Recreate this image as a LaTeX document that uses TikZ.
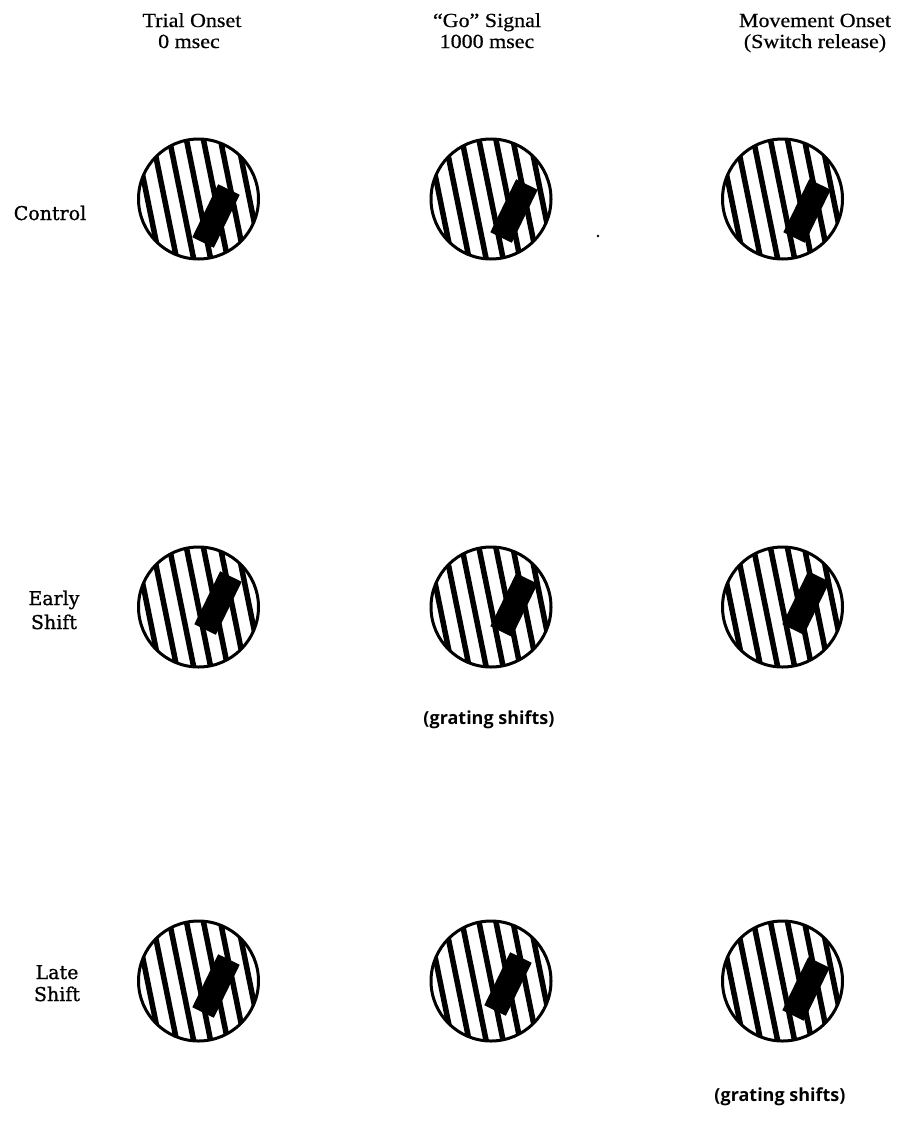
\documentclass[tikz,border=0pt]{standalone}
\usepackage{fontspec}
\setmainfont[FakeStretch=1.1,FakeBold=0.6]{Liberation Serif}
\newfontfamily\labelfont[FakeBold=1]{DejaVu Serif}
\newfontfamily\notefont{Open Sans}
\newcommand\gratingpanel[5]{% name, cx, cy, bar x, bar y
  \begin{scope}
    \clip (#2,#3) circle (60);
    \foreach \i in {-7,...,7} {
      \draw[stripe] ({#2+\i*17-75*sin(11.5)},{#3-75*cos(11.5)}) -- ({#2+\i*17+75*sin(11.5)},{#3+75*cos(11.5)});
    }
  \end{scope}
  \node[disc] (#1) at (#2,#3) {};
  \node[bar] (#1bar) at (#4,#5) {};
}
\begin{document}
\begin{tikzpicture}[x=1pt,y=-1pt,
  disc/.style={circle, draw, line width=3pt, minimum size=120pt, inner sep=0pt},
  bar/.style={rectangle, fill=black, minimum width=24pt, minimum height=59pt, inner sep=0pt, rotate=-26},
  stripe/.style={line width=5.5pt},
  head/.style={font=\fontsize{20}{22}\selectfont, anchor=base, inner sep=0pt},
  rowlab/.style={font=\labelfont\fontsize{19}{22}\selectfont, anchor=base, inner sep=0pt},
  note/.style={font=\notefont\bfseries\fontsize{18}{20}\selectfont, anchor=base, inner sep=0pt}]
\useasboundingbox (0,0) rectangle (906,1130);

% column headers
\node[head] (h1a) at (192,27) {Trial Onset};
\node[head] (h1b) at (189,48) {0 msec};
\node[head] (h2a) at (487,27) {“Go” Signal};
\node[head] (h2b) at (487,48) {1000 msec};
\node[head] (h3a) at (815,27) {Movement Onset};
\node[head] (h3b) at (815,48) {(Switch release)};

% row labels
\node[rowlab] (r1) at (50,220) {Control};
\node[rowlab] (r2a) at (54,605) {Early};
\node[rowlab] (r2b) at (54,629) {Shift};
\node[rowlab] (r3a) at (57,979) {Late};
\node[rowlab] (r3b) at (57,1001) {Shift};

% panels
\gratingpanel{c11}{198.5}{199}{216}{216}
\gratingpanel{c12}{491}{199}{514}{211}
\gratingpanel{c13}{782.5}{199}{807}{211}
\gratingpanel{c21}{198.5}{607}{218}{603}
\gratingpanel{c22}{491}{607}{514}{605}
\gratingpanel{c23}{782.5}{607}{806}{603}
\gratingpanel{c31}{198.5}{981}{216}{986}
\gratingpanel{c32}{491}{981}{508}{984}
\gratingpanel{c33}{782.5}{981}{806}{989}

\fill (598,236) circle (1.3);

% notes
\node[note] (n1) at (489,724) {(grating shifts)};
\node[note] (n2) at (780,1101) {(grating shifts)};
\end{tikzpicture}
\end{document}
